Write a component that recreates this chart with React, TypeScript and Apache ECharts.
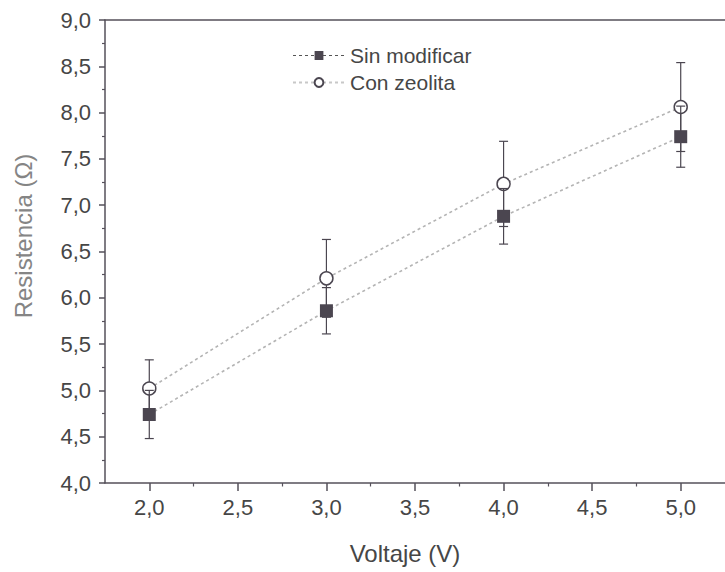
import React, { useEffect, useRef } from "react";
import * as echarts from "echarts";

const voltages = [2.0, 3.0, 4.0, 5.0];
const sinModificar = [4.74, 5.86, 6.88, 7.74];
const sinModificarErr = [0.26, 0.25, 0.3, 0.33];
const conZeolita = [5.02, 6.21, 7.23, 8.06];
const conZeolitaErr = [0.31, 0.42, 0.46, 0.48];
const xMajorTicks = [2.0, 2.5, 3.0, 3.5, 4.0, 4.5, 5.0];
const xMinorTicks = [2.25, 2.75, 3.25, 3.75, 4.25, 4.75];
const seriesNames = ["Sin modificar", "Con zeolita"];
const xTitle = "Voltaje (V)";
const yTitle = "Resistencia (\u03A9)";

const FONT = "'Liberation Sans', Arial, sans-serif";
const AXIS = "#55505a";
const MARK = "#4b4650";
const TEXT = "#464646";

const fmt = (v: number) => v.toFixed(1).replace(".", ",");

function errorRender(params: any, api: any) {
  const x = api.value(0);
  const y = api.value(1);
  const e = api.value(2);
  const top = api.coord([x, y + e]);
  const bot = api.coord([x, y - e]);
  const cap = 4.5;
  const style = { stroke: MARK, lineWidth: 1.2 };
  return {
    type: "group",
    children: [
      { type: "line", shape: { x1: top[0], y1: top[1], x2: bot[0], y2: bot[1] }, style },
      { type: "line", shape: { x1: top[0] - cap, y1: top[1], x2: top[0] + cap, y2: top[1] }, style },
      { type: "line", shape: { x1: bot[0] - cap, y1: bot[1], x2: bot[0] + cap, y2: bot[1] }, style },
    ],
  };
}

export default function App() {
  const ref = useRef<HTMLDivElement>(null);
  useEffect(() => {
    if (!ref.current) return;
    const chart = echarts.init(ref.current, null, { renderer: "svg" });
    const sinData = voltages.map((v, i) => [v, sinModificar[i]]);
    const conData = voltages.map((v, i) => [v, conZeolita[i]]);
    const sinErr = voltages.map((v, i) => [v, sinModificar[i], sinModificarErr[i]]);
    const conErr = voltages.map((v, i) => [v, conZeolita[i], conZeolitaErr[i]]);
    const xCommon = { type: "value", min: 1.75, max: 5.25, splitLine: { show: false } };
    chart.setOption({
      animation: false,
      backgroundColor: "#ffffff",
      grid: { left: 105, top: 20, bottom: 89, right: -6 },
      legend: {
        orient: "vertical",
        left: 287,
        top: 40,
        itemWidth: 52,
        itemHeight: 11,
        itemGap: 6,
        textStyle: { fontFamily: FONT, fontSize: 21, color: TEXT },
        data: [
          { name: seriesNames[0], lineStyle: { color: "#555", width: 1, type: [3, 3] } },
          { name: seriesNames[1], lineStyle: { color: "#c8c8c8", width: 2, type: [3, 3] } },
        ],
      },
      xAxis: [
        {
          ...xCommon,
          position: "bottom",
          axisLine: { show: true, lineStyle: { color: AXIS, width: 1.5 } },
          axisTick: { show: true, customValues: xMajorTicks, length: 8, lineStyle: { color: AXIS, width: 1.5 } },
          axisLabel: {
            customValues: xMajorTicks,
            formatter: (v: number) => fmt(v),
            fontFamily: FONT,
            fontSize: 22,
            color: TEXT,
            margin: 13,
          },
        },
        {
          ...xCommon,
          position: "top",
          axisLine: { show: true, onZero: false, lineStyle: { color: AXIS, width: 1.5 } },
          axisTick: { show: false },
          axisLabel: { show: false },
        },
        {
          ...xCommon,
          position: "bottom",
          axisLine: { show: false },
          axisTick: { show: true, customValues: xMinorTicks, length: 3.5, lineStyle: { color: AXIS, width: 1.2 } },
          axisLabel: { show: false },
        },
      ],
      yAxis: {
        type: "value",
        min: 4,
        max: 9,
        interval: 0.5,
        splitLine: { show: false },
        axisLine: { show: true, onZero: false, lineStyle: { color: AXIS, width: 1.5 } },
        axisTick: { show: true, length: 6, lineStyle: { color: AXIS, width: 1.5 } },
        minorTick: { show: true, splitNumber: 2, length: 3, lineStyle: { color: AXIS, width: 1.2 } },
        axisLabel: {
          formatter: (v: number) => fmt(v),
          fontFamily: FONT,
          fontSize: 22,
          color: TEXT,
          margin: 14,
        },
      },
      graphic: [
        {
          type: "text",
          x: 405,
          y: 553,
          style: {
            text: xTitle,
            fontFamily: FONT,
            fontSize: 24,
            fill: TEXT,
            textAlign: "center",
            textVerticalAlign: "middle",
          },
        },
        {
          type: "text",
          x: 23,
          y: 236,
          rotation: Math.PI / 2,
          style: {
            text: yTitle,
            fontFamily: FONT,
            fontSize: 24,
            fill: "#858585",
            textAlign: "center",
            textVerticalAlign: "middle",
          },
        },
      ],
      series: [
        {
          name: seriesNames[1] + " err",
          type: "custom",
          renderItem: errorRender,
          data: conErr,
          z: 1,
          silent: true,
        },
        {
          name: seriesNames[1],
          type: "line",
          data: conData,
          symbol: "circle",
          symbolSize: 13,
          z: 2,
          itemStyle: { color: "#ffffff", borderColor: MARK, borderWidth: 1.5 },
          lineStyle: { color: "#b4b4b4", width: 1.6, type: [3, 3] },
        },
        {
          name: seriesNames[0] + " err",
          type: "custom",
          renderItem: errorRender,
          data: sinErr,
          z: 3,
          silent: true,
        },
        {
          name: seriesNames[0],
          type: "line",
          data: sinData,
          symbol: "rect",
          symbolSize: 13,
          z: 4,
          itemStyle: { color: MARK, borderColor: MARK, borderWidth: 0 },
          lineStyle: { color: "#b4b4b4", width: 1.6, type: [3, 3] },
        },
      ],
    });
    return () => chart.dispose();
  }, []);
  return (
    <div
      ref={ref}
      style={{ position: "fixed", left: 0, top: 0, width: 725, height: 572, background: "#fff" }}
    />
  );
}
